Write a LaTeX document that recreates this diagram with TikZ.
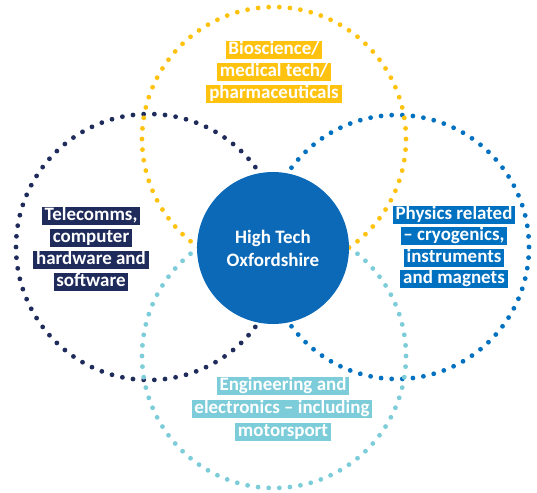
\documentclass[tikz,border=0pt]{standalone}
\usepackage{fontspec}
\setmainfont{Carlito}
\definecolor{bioyellow}{HTML}{FFC20E}
\definecolor{telenavy}{HTML}{1F2B5B}
\definecolor{physblue}{HTML}{0070C0}
\definecolor{engcyan}{HTML}{7CCCD9}
\definecolor{hubblue}{HTML}{0B69B7}
\tikzset{
  sector/.style={text=white, font=\bfseries\fontsize{10.8}{12}\selectfont,
    inner xsep=1.6pt, inner ysep=0pt, text height=7.4pt, text depth=2.4pt},
  hub/.style={circle, fill=hubblue, minimum size=3.04cm, text=white, align=center,
    font=\bfseries\fontsize{10.8}{13}\selectfont}
}
\begin{document}
\begin{tikzpicture}[x=0.02cm,y=-0.02cm]
\useasboundingbox (0,0) rectangle (537,493);
\foreach \i in {1,...,78} \fill[telenavy] ({149+133*cos(360/78*\i)},{247+133*sin(360/78*\i)}) circle (2.4);
\foreach \i in {1,...,78} \fill[physblue] ({397+132*cos(360/78*\i)},{247+132*sin(360/78*\i)}) circle (2.4);
\foreach \i in {1,...,78} \fill[engcyan] ({274+132*cos(360/78*\i)},{356+132*sin(360/78*\i)}) circle (2.4);
\foreach \i in {1,...,78} \fill[bioyellow] ({274+132*cos(360/78*\i)},{139+132*sin(360/78*\i)}) circle (2.4);
\node[hub] (hq) at (273,248) {High Tech\\Oxfordshire};
\node[sector, fill=bioyellow] (bio1) at (274,50) {Bioscience/};
\node[sector, fill=bioyellow] (bio2) at (274,72) {medical tech/};
\node[sector, fill=bioyellow] (bio3) at (274,94) {pharmaceuticals};
\node[sector, fill=telenavy] (tel1) at (91,216) {Telecomms,};
\node[sector, fill=telenavy] (tel2) at (91,238) {computer};
\node[sector, fill=telenavy] (tel3) at (91,260) {hardware and};
\node[sector, fill=telenavy] (tel4) at (91,282) {software};
\node[sector, fill=physblue] (phy1) at (454,215) {Physics related};
\node[sector, fill=physblue] (phy2) at (454,236) {– cryogenics,};
\node[sector, fill=physblue] (phy3) at (454,258) {instruments};
\node[sector, fill=physblue] (phy4) at (454,279) {and magnets};
\node[sector, fill=engcyan] (eng1) at (283,386) {Engineering and};
\node[sector, fill=engcyan] (eng2) at (282,409) {electronics – including};
\node[sector, fill=engcyan] (eng3) at (283,432) {motorsport};
\end{tikzpicture}
\end{document}
